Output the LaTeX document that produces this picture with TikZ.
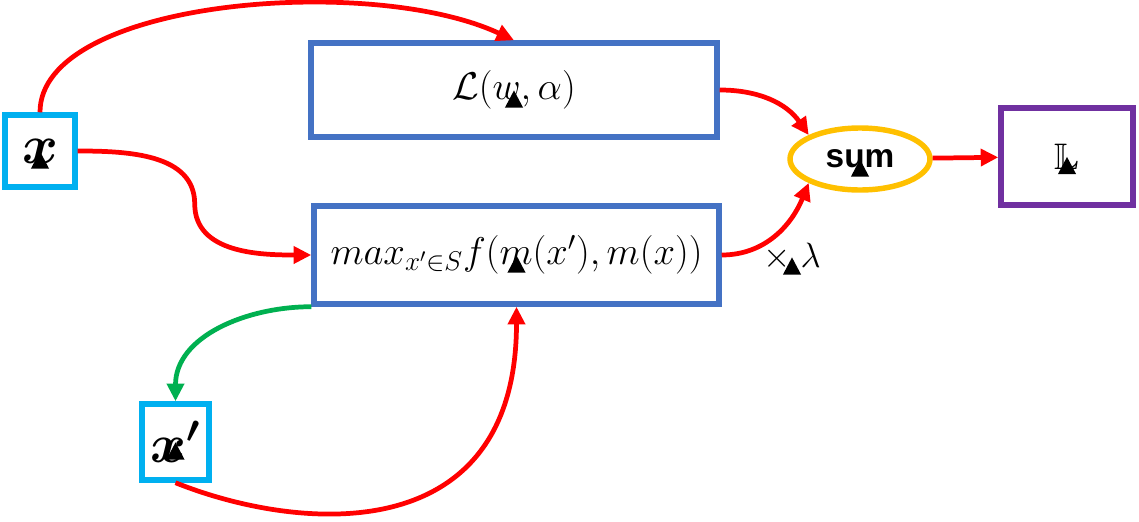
\documentclass[tikz,border=0pt]{standalone}
\usepackage{fix-cm}
\usepackage{amsmath}
\usepackage{amssymb}
\usepackage{fontspec}
\newfontfamily\sumfont{Liberation Sans}
\usetikzlibrary{arrows.meta,shapes.geometric}
\definecolor{boxblue}{RGB}{68,114,196}
\definecolor{xcyan}{RGB}{0,176,240}
\definecolor{sumgold}{RGB}{255,192,0}
\definecolor{outpurple}{RGB}{112,48,160}
\definecolor{xgreen}{RGB}{0,176,80}

\begin{document}
\begin{tikzpicture}[->, >={Triangle[length=10pt,width=9.5pt]}, line width=2.7pt]
		\tikzstyle{every node}=[draw, line width=3.1pt, inner sep=0pt]
		\tikzstyle{inbox}=[draw=xcyan, rectangle, font=\fontsize{31}{34}\selectfont]
		\tikzstyle{lossbox}=[draw=boxblue, rectangle, font=\fontsize{22}{26}\selectfont]
		\tikzstyle{sumnode}=[draw=sumgold, ellipse, font=\sumfont\bfseries\fontsize{19}{22}\selectfont]
		\tikzstyle{outbox}=[draw=outpurple, rectangle, font=\fontsize{21}{24}\selectfont]
		\useasboundingbox (0,0) rectangle (22.78,-10.42);
		\draw (0.8,-3.02) node[inbox, minimum width=1.4cm, minimum height=1.44cm] (x) {$\boldsymbol{x}$};
		\draw (3.51,-8.84) node[inbox, minimum width=1.34cm, minimum height=1.52cm] (xp) {$\boldsymbol{x'}$};
		\draw (10.28,-1.8) node[lossbox, minimum width=8.12cm, minimum height=1.88cm] (L) {$\mathcal{L}(w,\alpha)$};
		\draw (10.33,-5.1) node[lossbox, minimum width=8.1cm, minimum height=1.96cm] (max) {$max_{x'\in S}f(m(x'),m(x))$};
		\draw (17.2,-3.18) node[sumnode, minimum width=2.8cm, minimum height=1.24cm] (sum) {sum};
		\draw (21.34,-3.13) node[outbox, minimum width=2.64cm, minimum height=1.94cm] (total) {$\mathbb{L}$};
		\draw (15.84,-5.14) node[draw=none, font=\fontsize{20}{24}\selectfont] (lam) {$\times\;\lambda$};
	
		\draw[red] (x.north) to[out=90, in=155, out looseness=0.6, in looseness=0.85] (L.north);
		\draw[red] (x.east) to[out=0, in=90] ++(2.34,-1.06) to[out=-90, in=180] (max.west);
		\draw[red] (L.east) to[out=0, in=125] (sum.155);
		\draw[red] (max.east) to[out=0, in=-112] (sum.205);
		\draw[red] (sum) -- (total);
		\draw[xgreen] (max.south west) to[out=180, in=90] (xp.north);
		\draw[red] (xp.south) .. controls +(2.5,-1.0) and +(0,-4.86) .. (max.south);
	\end{tikzpicture}
\end{document}
